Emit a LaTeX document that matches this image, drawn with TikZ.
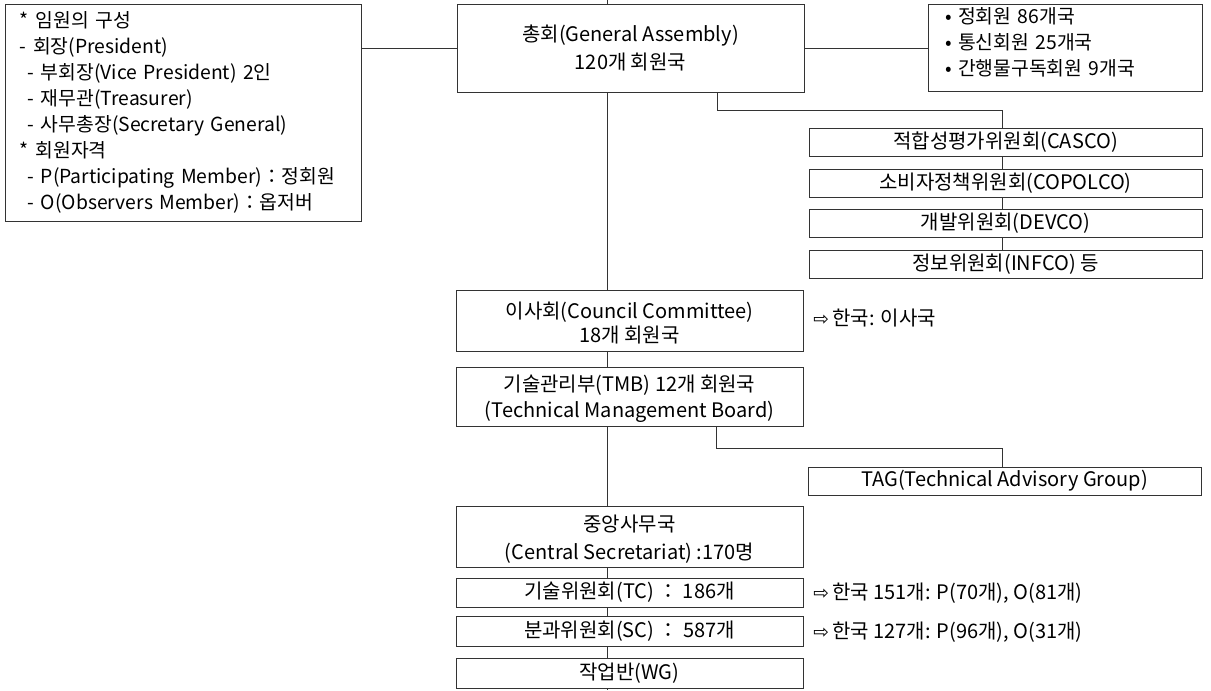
\documentclass[tikz,border=0pt]{standalone}
\usepackage{fontspec}
\setmainfont{Noto Sans CJK KR}
\newfontfamily\arrowfont{DejaVu Sans}
\usetikzlibrary{calc}
\tikzset{>=latex}
\newcommand{\hint}{{\arrowfont\fontsize{14pt}{14pt}\selectfont ⇨}\,}
\newcommand{\lowstrut}{\rule{0pt}{16pt}}

\begin{document}
\begin{tikzpicture}[x=0.75pt, y=-0.75pt, line width=0.6pt, draw=black!80,
    box/.style={draw=black!80, inner sep=0pt, align=center, font=\fontsize{15pt}{21pt}\selectfont},
    mainbox/.style={box, minimum width=260.25pt},
    sidebox/.style={box, minimum width=294.75pt, minimum height=21pt},
    listbox/.style={draw=black!80, align=left, inner ysep=0pt, font=\fontsize{14.5pt}{19.5pt}\selectfont},
    note/.style={anchor=west, inner sep=0pt, font=\fontsize{15pt}{18pt}\selectfont}]
    \useasboundingbox (0,0) rectangle (1211,690);
    \node[listbox, text width=244.5pt, inner xsep=11.25pt, minimum height=162.75pt] (officers) at (183,112.5)
      {* 임원의 구성\\
       - 회장(President)\\
       \hspace{0.4em}- 부회장(Vice President) 2인\\
       \hspace{0.4em}- 재무관(Treasurer)\\
       \hspace{0.4em}- 사무총장(Secretary General)\\
       {*} 회원자격\\
       \hspace{0.4em}- P(Participating Member)：정회원\\
       \hspace{0.4em}- O(Observers Member)：옵저버};
    \node[mainbox, minimum height=66pt] (assembly) at (630.5,48)
      {총회(General Assembly)\\120개 회원국};
    \node[listbox, text width=180pt, inner xsep=12.75pt, minimum height=65.25pt] (members) at (1065,47.5)
      {• 정회원 86개국\\• 통신회원 25개국\\• 간행물구독회원 9개국\rule[-9pt]{0pt}{9pt}};
    \node[sidebox] (casco) at (1005.5,142) {적합성평가위원회(CASCO)};
    \node[sidebox] (copolco) at (1005.5,183) {소비자정책위원회(COPOLCO)};
    \node[sidebox] (devco) at (1005.5,223) {개발위원회(DEVCO)};
    \node[sidebox] (infco) at (1005.5,264) {정보위원회(INFCO) 등};
    \node[mainbox, minimum height=45.75pt, font=\fontsize{15pt}{17.5pt}\selectfont] (council) at (629.5,320.5)
      {\lowstrut 이사회(Council Committee)\\18개 회원국};
    \node[note] (council note) at (813,318) {\hint 한국: 이사국};
    \node[mainbox, minimum height=44.25pt, font=\fontsize{15pt}{19.5pt}\selectfont] (tmb) at (629.5,396.5)
      {\lowstrut 기술관리부(TMB) 12개 회원국\\(Technical Management Board)};
    \node[sidebox] (tag) at (1004.5,481) {TAG(Technical Advisory Group)};
    \node[mainbox, minimum height=45.75pt] (secretariat) at (629.5,536.5)
      {\lowstrut 중앙사무국\\(Central Secretariat) :170명};
    \node[mainbox, minimum height=21.75pt] (tc) at (629.5,592.5) {기술위원회(TC) ： 186개};
    \node[note] (tc note) at (813,593) {\hint 한국 151개: P(70개), O(81개)};
    \node[mainbox, minimum height=22.5pt] (sc) at (629.5,631) {분과위원회(SC) ： 587개};
    \node[note] (sc note) at (813,632) {\hint 한국 127개: P(96개), O(31개)};
    \node[mainbox, minimum height=22.5pt] (wg) at (629.5,673) {작업반(WG)};
    \coordinate (spine top) at (607,0);
    \coordinate (spine end) at (607,690);
    \coordinate (knee a) at (717,110.5);
    \coordinate (knee b) at (1002,110.5);
    \coordinate (knee c) at (716,448);
    \coordinate (knee d) at (1002,448);
    \draw (assembly.west) -- (assembly.west -| officers.east);
    \draw (assembly.east) -- (assembly.east -| members.west);
    \draw (spine top) -- (assembly.north -| spine top);
    \draw (assembly.south -| spine top) -- (council.north -| spine top);
    \foreach \a/\b in {council/tmb, tmb/secretariat, secretariat/tc, tc/sc, sc/wg}
      \draw (\a.south -| spine top) -- (\b.north -| spine top);
    \draw (wg.south -| spine top) -- (spine end);
    \draw (assembly.south -| knee a) -- (knee a) -- (knee b) -- (casco.north -| knee b);
    \foreach \a/\b in {casco/copolco, copolco/devco, devco/infco}
      \draw (\a.south -| knee b) -- (\b.north -| knee b);
    \draw (tmb.south -| knee c) -- (knee c) -- (knee d) -- (tag.north -| knee d);
\end{tikzpicture}
\end{document}
